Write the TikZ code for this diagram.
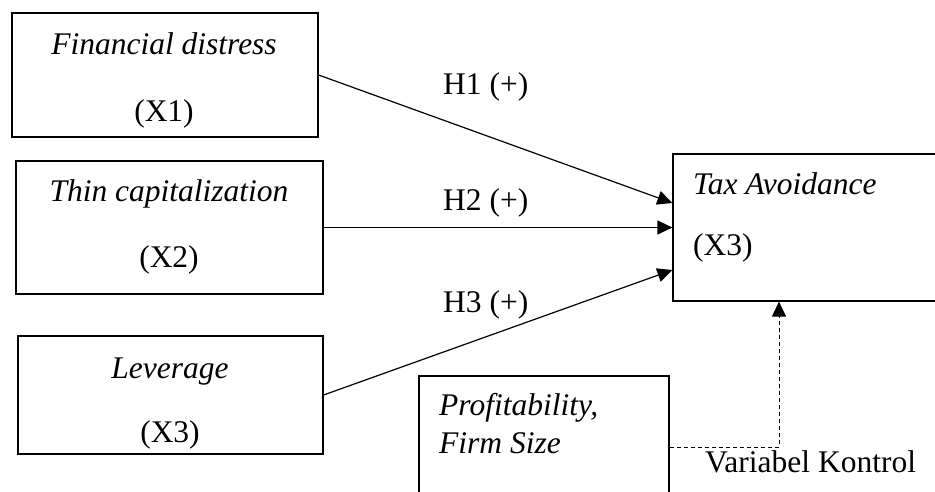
\documentclass[tikz,border=0pt]{standalone}
\usepackage{fontspec}
\setmainfont{Liberation Serif}
\usetikzlibrary{arrows.meta,positioning}

\begin{document}
\begin{tikzpicture}[x=1pt, y=-1pt]
	\tikzstyle{Box}   = [rectangle, draw, line width=1.2pt, inner sep=0pt]
	\tikzstyle{Label} = [inner sep=0pt, anchor=base west, font=\fontsize{31.5}{36}\selectfont]
	\tikzstyle{Mid}   = [Label, anchor=base]
	\tikzstyle{Path}  = [line width=1.2pt, -{Triangle[length=15pt, width=14pt]}]
	\tikzstyle{Ctrl}  = [Path, line width=1pt, dash pattern=on 4pt off 3pt]

	\clip (0,0) rectangle (935,492);

	% independent variables
	\node (fd)  at (165.0, 75.0)  [Box, minimum width=306pt, minimum height=124pt] {};
	\node (tc)  at (169.5, 227.5) [Box, minimum width=307pt, minimum height=133pt] {};
	\node (lev) at (170.5, 395.0) [Box, minimum width=305pt, minimum height=118pt] {};

	\node (fdname)  at (164, 55)  [Mid] {\textit{Financial distress}};
	\node (fdcode)  at (164, 122) [Mid] {(X1)};
	\node (tcname)  at (169, 202) [Mid] {\textit{Thin capitalization}};
	\node (tccode)  at (169, 267) [Mid] {(X2)};
	\node (levname) at (170, 378) [Mid] {\textit{Leverage}};
	\node (levcode) at (170, 442) [Mid] {(X3)};

	% dependent and control
	\node (tax)  at (836.5, 227.5) [Box, minimum width=327pt, minimum height=147pt] {};
	\node (prof) at (544.0, 458.0) [Box, minimum width=250pt, minimum height=164pt] {};

	\node (taxname)  at (693, 194) [Label] {\textit{Tax Avoidance}};
	\node (taxcode)  at (693, 255) [Label] {(X3)};
	\node (profname) at (439, 415) [Label] {\textit{Profitability,}};
	\node (sizename) at (439, 453) [Label] {\textit{Firm Size}};

	\coordinate (t1) at ([yshift=24.5pt]tax.west);
	\coordinate (t3) at ([yshift=-42.5pt]tax.west);
	\coordinate (c1) at ([yshift=11pt]prof.east);
	\coordinate (c2) at (779, 447);

	\draw [Path] (fd.east) -- (t1);
	\draw [Path] (tc.east) -- (tax.west);
	\draw [Path] (lev.east) -- (t3);
	\draw [Ctrl] (c1) -- (c2) -- (c2 |- tax.south);

	\node (h1) at (443, 95)  [Label] {H1 (+)};
	\node (h2) at (443, 211) [Label] {H2 (+)};
	\node (h3) at (443, 312) [Label] {H3 (+)};
	\node (vk) at (705, 472) [Label] {Variabel Kontrol};
\end{tikzpicture}
\end{document}
